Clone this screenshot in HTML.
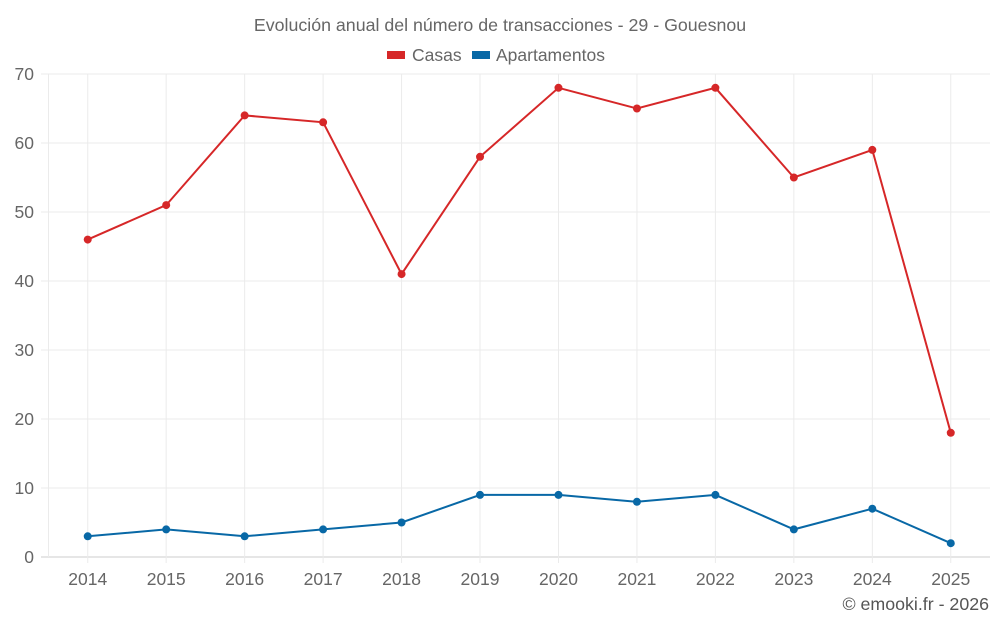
<!DOCTYPE html>
<html><head><meta charset="utf-8"><style>
body{margin:0;background:#fff;font-family:"Liberation Sans",sans-serif}
svg text{font-family:"Liberation Sans",sans-serif}
</style></head><body>
<svg id="chart" width="1000" height="625">
<text x="500" y="31" text-anchor="middle" font-size="17.8" fill="#666">Evolución anual del número de transacciones - 29 - Gouesnou</text>
<g><rect x="387" y="51" width="18" height="8" fill="#d62728"/><text x="412" y="61" font-size="17.5" fill="#666">Casas</text></g>
<g><rect x="472" y="51" width="18" height="8" fill="#0868a6"/><text x="496" y="61" font-size="17.5" fill="#666">Apartamentos</text></g>
<g id="grid"></g><g id="axes"></g><g id="series"></g>
<text x="989" y="610" text-anchor="end" font-size="17.8" fill="#555">© emooki.fr - 2026</text>
</svg>
<script>
const years=["2014","2015","2016","2017","2018","2019","2020","2021","2022","2023","2024","2025"];
const casas=[46,51,64,63,41,58,68,65,68,55,59,18];
const apartamentos=[3,4,3,4,5,9,9,8,9,4,7,2];
const yTicks=[0,10,20,30,40,50,60,70];
const NS="http://www.w3.org/2000/svg";
const L=48.5,R=990,T=74,B=557,yMax=70;
const band=(R-L)/years.length;
const x=i=>L+band*(i+0.5);
const y=v=>B-(v/yMax)*(B-T);
function mk(tag,attrs,parent){const e=document.createElementNS(NS,tag);for(const k in attrs)e.setAttribute(k,attrs[k]);parent.appendChild(e);return e;}
const grid=document.getElementById('grid'),axes=document.getElementById('axes'),ser=document.getElementById('series');
yTicks.forEach(t=>{
  const g=mk('line',{x1:41,x2:R,y1:y(t),y2:y(t),stroke:t===0?'#ccc':'#ebebeb'},grid);
  
  
  const tx=mk('text',{x:34,y:y(t)+6,'text-anchor':'end','font-size':17.5,fill:'#666'},axes);
  tx.textContent=t;
  
  
});
const lg=mk('line',{x1:L,x2:L,y1:T,y2:B,stroke:'#ebebeb'},grid);


years.forEach((yr,i)=>{
  const g=mk('line',{x1:x(i),x2:x(i),y1:T,y2:B+6,stroke:'#ebebeb'},grid);
  
  
  const tx=mk('text',{x:x(i),y:585,'text-anchor':'middle','font-size':17.5,fill:'#666'},axes);
  tx.textContent=yr;
  
  
});
function draw(data,color,name){
  const p=mk('polyline',{points:data.map((v,i)=>x(i)+','+y(v)).join(' '),fill:'none',stroke:color,'stroke-width':2},ser);
  
  
  data.forEach((v,i)=>{
    const c=mk('circle',{cx:x(i),cy:y(v),r:4,fill:color},ser);
    
    
  });
}
draw(casas,'#d62728','casas');
draw(apartamentos,'#0868a6','apartamentos');
</script>
</body></html>
